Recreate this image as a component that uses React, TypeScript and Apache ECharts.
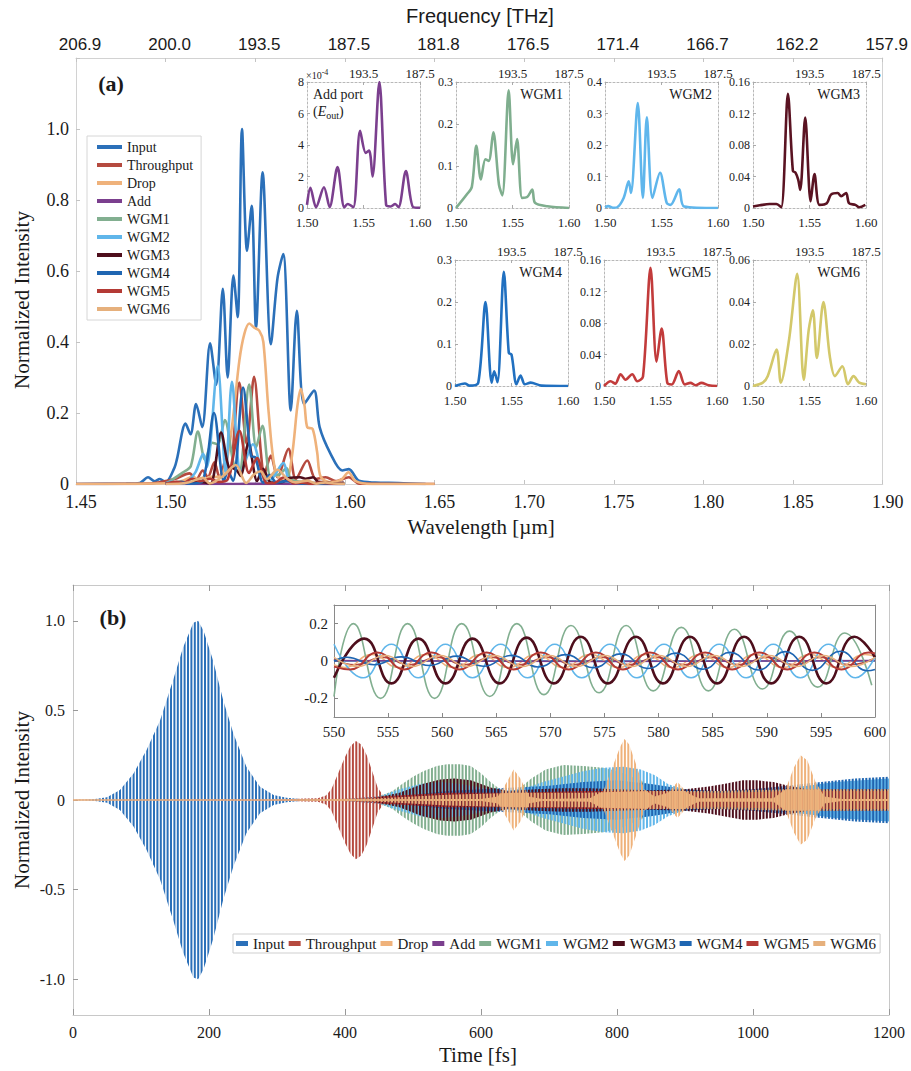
import React, { useEffect, useRef } from "react";
import * as echarts from "echarts";

const SERIF = '"Liberation Serif", "DejaVu Serif", "Times New Roman", serif';
const NARROW = '"Liberation Sans Narrow", "Liberation Sans", Arial, sans-serif';

// ---------- names, colours, tick labels ----------
const seriesNames = ["Input", "Throughput", "Drop", "Add", "WGM1", "WGM2", "WGM3", "WGM4", "WGM5", "WGM6"];
const seriesColors = ["#2b70b9", "#b54a3f", "#efb27b", "#7b3f8e", "#82af90", "#60b6ea", "#4e0e1c", "#1f66b2", "#b43a35", "#e6b07c"];
const insetColors = ["#7b3f8e", "#7fae8e", "#5fb6ec", "#5a1322", "#2170c0", "#c23b3b", "#d3c86a"];
const frequencyLabels = ["206.9", "200.0", "193.5", "187.5", "181.8", "176.5", "171.4", "166.7", "162.2", "157.9"];
const insetFrequencyLabels = ["", "193.5", "187.5"];
const timeYLabels = [-1, -0.5, 0, 0.5, 1];
const insetTimeYLabels = [-0.2, 0, 0.2];
const insetTitles = ["", "WGM1", "WGM2", "WGM3", "WGM4", "WGM5", "WGM6"];
const insetMax = [8, 0.3, 0.4, 0.16, 0.3, 0.16, 0.06];
const insetStep = [2, 0.1, 0.1, 0.04, 0.1, 0.04, 0.02];

// ---------- (a) spectra: [wavelength um, normalized intensity] ----------
const inputSpectrum = [
  [1.45, 0], [1.478, 0.001], [1.4856, 0.003], [1.4902, 0.019], [1.4939, 0.0075], [1.4967, 0.014], [1.5, 0.005],
  [1.505, 0.047], [1.5063, 0.07], [1.5111, 0.17], [1.5139, 0.14], [1.517, 0.225], [1.5204, 0.16], [1.5248, 0.396],
  [1.5282, 0.28], [1.5319, 0.55], [1.5346, 0.3], [1.5378, 0.587], [1.5402, 0.47], [1.5426, 1.0], [1.5454, 0.657],
  [1.548, 0.784], [1.5504, 0.44], [1.5541, 0.878], [1.5587, 0.394], [1.5624, 0.58], [1.5656, 0.648], [1.5698, 0.207],
  [1.5732, 0.488], [1.5772, 0.225], [1.5828, 0.263], [1.5859, 0.16], [1.592, 0.085], [1.5985, 0.038], [1.6022, 0.042],
  [1.6078, 0.009], [1.617, 0.004], [1.63, 0.003], [1.645, 0],
];
const throughputSpectrum = [
  [1.45, 0], [1.49, 0.001], [1.4967, 0.005], [1.505, 0.014], [1.5133, 0.03], [1.517, 0.012], [1.5207, 0.038],
  [1.5235, 0.019], [1.5272, 0.061], [1.53, 0.019], [1.5337, 0.07], [1.5356, 0.023], [1.5411, 0.286], [1.5452, 0.113],
  [1.5493, 0.302], [1.5532, 0.085], [1.555, 0.028], [1.5587, 0.08], [1.5624, 0.019], [1.5685, 0.099], [1.5726, 0.014],
  [1.579, 0.066], [1.5837, 0.014], [1.5893, 0.019], [1.5948, 0.008], [1.6022, 0.019], [1.608, 0.001], [1.65, 0],
];
const dropSpectrum = [
  [1.45, 0], [1.5, 0.002], [1.51, 0.01], [1.515, 0.02], [1.52, 0.008], [1.525, 0.02], [1.5296, 0.02], [1.5337, 0.056],
  [1.5374, 0.178], [1.5411, 0.347], [1.5439, 0.423], [1.5467, 0.452], [1.5495, 0.44], [1.5522, 0.432], [1.5545, 0.4],
  [1.5575, 0.2], [1.5615, 0.03], [1.567, 0.008], [1.5705, 0.08], [1.5735, 0.22], [1.5754, 0.268], [1.5775, 0.22],
  [1.579, 0.16], [1.582, 0.155], [1.5845, 0.09], [1.5865, 0.02], [1.592, 0.005], [1.598, 0.012], [1.602, 0.033],
  [1.606, 0.008], [1.615, 0], [1.65, 0],
];
// Add port in units of 1e-4
const addPortSpectrum = [
  [1.5, 0.2], [1.503, 1.28], [1.508, 0.05], [1.515, 1.32], [1.52, 0.05], [1.527, 2.6], [1.533, 0.05], [1.536, 0.25],
  [1.541, 0.05], [1.547, 4.9], [1.552, 3.5], [1.555, 3.65], [1.558, 2.0], [1.564, 8.0], [1.57, 0.2], [1.574, 0.1],
  [1.578, 0.25], [1.581, 0.05], [1.5875, 2.35], [1.594, 0.05], [1.6, 0.02],
];
const wgm1Spectrum = [
  [1.5, 0], [1.5095, 0.032], [1.514, 0.05], [1.518, 0.148], [1.522, 0.068], [1.526, 0.116], [1.529, 0.112], [1.533, 0.18],
  [1.538, 0.056], [1.541, 0.03], [1.5466, 0.28], [1.5505, 0.104], [1.554, 0.164], [1.5585, 0.024], [1.563, 0.026],
  [1.5675, 0.044], [1.57, 0.012], [1.581, 0.004], [1.6, 0],
];
const wgm2Spectrum = [
  [1.5, 0.002], [1.503, 0.006], [1.507, 0.001], [1.5105, 0.002], [1.5165, 0.032], [1.521, 0.085], [1.523, 0.048],
  [1.529, 0.333], [1.5335, 0.032], [1.537, 0.288], [1.542, 0.032], [1.5487, 0.112], [1.5546, 0.016], [1.558, 0.01],
  [1.5657, 0.059], [1.57, 0.005], [1.6, 0],
];
const wgm3Spectrum = [
  [1.5, 0.002], [1.506, 0.0034], [1.5147, 0.005], [1.5206, 0.005], [1.525, 0.001], [1.5309, 0.145], [1.5353, 0.047],
  [1.5376, 0.045], [1.54, 0.036], [1.5418, 0.023], [1.5462, 0.115], [1.551, 0.0085], [1.5544, 0.043], [1.5588, 0.004],
  [1.5653, 0.006], [1.569, 0.017], [1.575, 0.019], [1.578, 0.015], [1.5824, 0.019], [1.585, 0.006], [1.5906, 0.004],
  [1.594, 0.001], [1.5994, 0.004],
];
const wgm4Spectrum = [
  [1.5, 0], [1.5088, 0.006], [1.513, 0.001], [1.5206, 0.008], [1.527, 0.2], [1.5324, 0.008], [1.5347, 0.035],
  [1.5376, 0.009], [1.5432, 0.272], [1.5476, 0.079], [1.55, 0.075], [1.5544, 0.004], [1.558, 0.025], [1.5618, 0.004],
  [1.567, 0.008], [1.5765, 0.001], [1.6, 0],
];
const wgm5Spectrum = [
  [1.5, 0], [1.5059, 0.006], [1.51, 0.003], [1.5147, 0.015], [1.519, 0.008], [1.525, 0.015], [1.5294, 0.006],
  [1.5345, 0.012], [1.5412, 0.15], [1.5465, 0.031], [1.551, 0.073], [1.556, 0.004], [1.56, 0.002], [1.5662, 0.019],
  [1.5715, 0.002], [1.5765, 0.004], [1.581, 0.001], [1.5862, 0.004], [1.5926, 0.001], [1.6, 0],
];
const wgm6Spectrum = [
  [1.5, 0], [1.5087, 0.0016], [1.513, 0.0047], [1.5209, 0.0173], [1.5246, 0.0016], [1.5319, 0.022], [1.5391, 0.0534],
  [1.5449, 0.003], [1.5493, 0.0267], [1.553, 0.036], [1.5565, 0.0133], [1.5623, 0.04], [1.568, 0.014], [1.5725, 0.0047],
  [1.5791, 0.0094], [1.584, 0.0008], [1.589, 0.0047], [1.594, 0.0016], [1.6, 0.0008],
];

// ---------- (b) oscillation envelopes: [time fs, amplitude] ----------
const inputEnvelope = [
  [0, 0], [20, 0.001], [30, 0.004], [50, 0.015], [69, 0.056], [89, 0.148], [108, 0.278], [128, 0.444], [147, 0.667],
  [162, 0.852], [177, 0.99], [184, 1.0], [192, 0.944], [206, 0.778], [221, 0.556], [236, 0.37], [255, 0.185],
  [275, 0.074], [295, 0.028], [314, 0.012], [334, 0.006], [360, 0.004], [400, 0.003], [1200, 0.003],
];
const throughputEnvelope = [
  [300, 0.002], [340, 0.008], [360, 0.01], [372, 0.025], [380, 0.06], [390, 0.15], [400, 0.24], [408, 0.3],
  [416, 0.33], [424, 0.31], [432, 0.25], [440, 0.16], [448, 0.07], [456, 0.025], [470, 0.015], [600, 0.02],
  [800, 0.02], [1000, 0.02], [1200, 0.02],
];
const dropEnvelope = [
  [0, 0.004], [600, 0.005], [625, 0.02], [638, 0.1], [648, 0.17], [658, 0.12], [670, 0.02], [690, 0.006], [760, 0.01],
  [780, 0.05], [795, 0.2], [805, 0.3], [811, 0.34], [818, 0.31], [828, 0.2], [840, 0.06], [855, 0.02], [875, 0.04],
  [889, 0.1], [903, 0.04], [920, 0.01], [1030, 0.01], [1048, 0.06], [1060, 0.18], [1070, 0.25], [1080, 0.22],
  [1092, 0.1], [1105, 0.02], [1130, 0.006], [1200, 0.006],
];
const addEnvelope = [[0, 0.002], [400, 0.005], [800, 0.008], [1200, 0.01]];
const wgm1Envelope = [
  [380, 0], [420, 0.005], [450, 0.02], [470, 0.05], [484, 0.09], [500, 0.13], [515, 0.16], [535, 0.19], [550, 0.2],
  [570, 0.2], [585, 0.19], [600, 0.15], [614, 0.1], [628, 0.06], [640, 0.045], [655, 0.06], [674, 0.12], [695, 0.17],
  [721, 0.195], [750, 0.19], [780, 0.18], [810, 0.15], [839, 0.1], [860, 0.06], [875, 0.04], [900, 0.035],
  [950, 0.04], [1000, 0.05], [1050, 0.06], [1100, 0.05], [1150, 0.04], [1200, 0.04],
];
const wgm2Envelope = [
  [380, 0], [450, 0.02], [480, 0.06], [510, 0.09], [540, 0.1], [570, 0.09], [600, 0.07], [630, 0.05], [660, 0.06],
  [691, 0.1], [720, 0.13], [750, 0.16], [780, 0.18], [810, 0.185], [835, 0.17], [855, 0.14], [875, 0.09], [898, 0.06],
  [930, 0.05], [980, 0.05], [1030, 0.06], [1080, 0.08], [1120, 0.1], [1160, 0.11], [1200, 0.12],
];
const wgm3Envelope = [
  [380, 0], [440, 0.01], [480, 0.04], [514, 0.09], [540, 0.115], [561, 0.12], [585, 0.11], [614, 0.07], [640, 0.05],
  [680, 0.06], [720, 0.065], [760, 0.065], [800, 0.06], [850, 0.055], [900, 0.06], [935, 0.075], [957, 0.09],
  [985, 0.11], [1005, 0.11], [1030, 0.1], [1052, 0.08], [1080, 0.06], [1120, 0.06], [1160, 0.06], [1200, 0.06],
];
const wgm4Envelope = [
  [400, 0], [450, 0.01], [500, 0.03], [550, 0.05], [600, 0.06], [650, 0.07], [700, 0.08], [750, 0.1], [800, 0.11],
  [850, 0.09], [900, 0.06], [950, 0.05], [1000, 0.06], [1050, 0.08], [1100, 0.1], [1150, 0.12], [1200, 0.13],
];
const wgm5Envelope = [
  [380, 0], [450, 0.02], [550, 0.04], [650, 0.04], [750, 0.05], [850, 0.05], [950, 0.04], [1050, 0.05], [1150, 0.05],
  [1200, 0.05],
];
const wgm6Envelope = [
  [0, 0.004], [380, 0.005], [450, 0.01], [550, 0.03], [650, 0.04], [750, 0.04], [850, 0.05], [950, 0.05], [1050, 0.06],
  [1150, 0.06], [1200, 0.06],
];

// ---------- (b) inset: extrema of the oscillations, 550-600 fs ----------
const inputOsc = [[550, 0], [600, 0]];
const throughputOsc = [
  [550, 0.01], [552.0, -0.02], [554.5, 0.02], [557.0, -0.02], [559.6, 0.02], [562.1, -0.02], [564.6, 0.02],
  [567.2, -0.02], [569.7, 0.02], [572.2, -0.02], [574.8, 0.02], [577.3, -0.02], [579.8, 0.02], [582.4, -0.02],
  [584.9, 0.02], [587.4, -0.02], [590.0, 0.02], [592.5, -0.02], [595.0, 0.02], [597.6, -0.02], [600, 0.015],
];
const dropOsc = [
  [550, -0.02], [551.0, -0.035], [553.5, 0.035], [556.0, -0.035], [558.5, 0.035], [561.1, -0.035], [563.6, 0.035],
  [566.1, -0.035], [568.7, 0.035], [571.2, -0.035], [573.7, 0.035], [576.3, -0.035], [578.8, 0.035], [581.3, -0.035],
  [583.9, 0.035], [586.4, -0.035], [588.9, 0.035], [591.5, -0.035], [594.0, 0.035], [596.5, -0.035], [599.1, 0.035],
  [600, 0.025],
];
const addOsc = [[550, 0.003], [575, -0.003], [600, 0.003]];
const wgm1Osc = [
  [550, -0.19], [551.8, 0.2], [554.3, -0.2], [556.8, 0.2], [559.3, -0.2], [561.8, 0.2], [564.4, -0.19], [566.9, 0.2],
  [569.4, -0.18], [571.9, 0.19], [574.5, -0.17], [577.0, 0.19], [579.5, -0.16], [582.1, 0.18], [584.6, -0.16],
  [587.0, 0.17], [589.6, -0.15], [592.1, 0.16], [594.7, -0.14], [597.2, 0.15], [599.7, -0.13],
];
const wgm2Osc = [
  [550, 0.09], [552.7, -0.09], [555.3, 0.09], [557.8, -0.09], [560.3, 0.09], [562.8, -0.09], [565.4, 0.09],
  [567.9, -0.09], [570.4, 0.09], [572.9, -0.09], [575.5, 0.09], [578.0, -0.09], [580.5, 0.09], [583.0, -0.09],
  [585.6, 0.09], [588.1, -0.09], [590.6, 0.09], [593.1, -0.09], [595.7, 0.09], [598.2, -0.09], [600, 0.02],
];
const wgm3Osc = [
  [550, -0.09], [552.8, 0.12], [555.3, -0.12], [557.8, 0.12], [560.3, -0.12], [562.8, 0.12], [565.3, -0.12],
  [567.8, 0.125], [570.3, -0.12], [572.8, 0.13], [575.3, -0.12], [577.9, 0.13], [580.4, -0.12], [582.9, 0.13],
  [585.4, -0.12], [587.9, 0.13], [590.4, -0.12], [593.0, 0.13], [595.5, -0.12], [598.1, 0.13], [600, 0.02],
];
const wgm4Osc = [
  [550, 0], [551.2, 0.02], [553.7, -0.02], [556.2, 0.022], [558.8, -0.024], [561.3, 0.026], [563.8, -0.028],
  [566.4, 0.03], [568.9, -0.032], [571.4, 0.034], [574.0, -0.036], [576.5, 0.038], [579.0, -0.04], [581.6, 0.042],
  [584.1, -0.044], [586.6, 0.046], [589.2, -0.048], [591.7, 0.05], [594.2, -0.05], [596.8, 0.052], [599.3, -0.052],
  [600, -0.045],
];
const wgm5Osc = [
  [550, -0.03], [551.5, -0.045], [554.0, 0.045], [556.5, -0.045], [559.0, 0.045], [561.6, -0.045], [564.1, 0.045],
  [566.6, -0.045], [569.1, 0.045], [571.7, -0.045], [574.2, 0.045], [576.7, -0.045], [579.2, 0.045], [581.8, -0.045],
  [584.3, 0.045], [586.8, -0.045], [589.3, 0.045], [591.9, -0.045], [594.4, 0.045], [596.9, -0.045], [599.4, 0.045],
  [600, 0.04],
];
const wgm6Osc = [
  [550, 0.02], [552.2, -0.03], [554.7, 0.03], [557.2, -0.03], [559.8, 0.03], [562.3, -0.03], [564.8, 0.03],
  [567.4, -0.03], [569.9, 0.03], [572.4, -0.03], [575.0, 0.03], [577.5, -0.03], [580.0, 0.03], [582.6, -0.03],
  [585.1, 0.03], [587.6, -0.03], [590.2, 0.03], [592.7, -0.03], [595.2, 0.03], [597.8, -0.03], [600, 0.02],
];

function stripePattern(color: string, offset: number) {
  const c = document.createElement("canvas");
  c.width = 17;
  c.height = 4;
  const g = c.getContext("2d");
  if (g) {
    g.fillStyle = color;
    for (let i = -1; i <= 5; i++) g.fillRect(offset + i * 3.4, 0, 2.0, 4);
  }
  return { image: c.toDataURL(), repeat: "repeat", imageWidth: 17, imageHeight: 4 };
}

function fmtTrim(v: number) {
  if (Math.abs(v) < 1e-9) return "0";
  return String(parseFloat(v.toFixed(3)));
}

function buildOption() {
  const grid: any[] = [];
  const xAxis: any[] = [];
  const yAxis: any[] = [];
  const series: any[] = [];
  const graphic: any[] = [];

  const addPanel = (g: any, xb: any, xt: any, yl: any, yr: any) => {
    grid.push(g);
    const gi = grid.length - 1;
    const xi = xAxis.length;
    xAxis.push({ type: "value", splitLine: { show: false }, ...xb, gridIndex: gi, position: "bottom" });
    xAxis.push({ type: "value", splitLine: { show: false }, ...xt, gridIndex: gi, position: "top" });
    const yi = yAxis.length;
    yAxis.push({ type: "value", splitLine: { show: false }, ...yl, gridIndex: gi, position: "left" });
    yAxis.push({ type: "value", splitLine: { show: false }, ...yr, gridIndex: gi, position: "right" });
    return { xi, yi };
  };

  const line = (color: string, type: any = "solid") => ({ onZero: false, lineStyle: { color, type, width: 1 } });
  const ticks = (len: number, color: string, extra: any = {}) => ({ inside: true, length: len, lineStyle: { color }, ...extra });
  const noLabel = { show: false };

  // ---------- panel (a) main ----------
  const frameA = "#d2d2d2";
  const pa = addPanel(
    { left: 76, top: 58, width: 810, height: 426 },
    {
      min: 1.45, max: 1.9, interval: 0.05, axisLine: line(frameA), axisTick: ticks(4, "#c4c4c4"),
      axisLabel: {
        fontFamily: SERIF, fontSize: 18, color: "#1a1a1a", margin: 9, padding: [0, 0, 0, 10],
        formatter: (v: number) => v.toFixed(2),
      },
    },
    {
      min: 1.45, max: 1.9, interval: 0.05, axisLine: line(frameA), axisTick: ticks(4, "#c4c4c4"),
      axisLabel: {
        fontFamily: NARROW, fontSize: 17, color: "#1a1a1a", margin: 5, padding: [0, 0, 0, 8],
        formatter: (v: number) => frequencyLabels[Math.round((v - 1.45) / 0.05)] || "",
      },
    },
    {
      min: 0, max: 1.2, interval: 0.2, axisLine: line(frameA), axisTick: ticks(4, "#c4c4c4"),
      axisLabel: {
        fontFamily: SERIF, fontSize: 18, color: "#1a1a1a", margin: 7,
        formatter: (v: number) => (v > 1.1 ? "" : v === 0 ? "0" : v.toFixed(1)),
      },
    },
    { min: 0, max: 1.2, interval: 0.2, axisLine: line(frameA), axisTick: { show: false }, axisLabel: noLabel }
  );
  const mainSpectra = [
    inputSpectrum, throughputSpectrum, dropSpectrum,
    addPortSpectrum.map((p) => [p[0], p[1] * 1e-4]),
    wgm1Spectrum, wgm2Spectrum, wgm3Spectrum, wgm4Spectrum, wgm5Spectrum, wgm6Spectrum,
  ];
  seriesNames.forEach((n, i) => {
    series.push({
      type: "line", name: n, xAxisIndex: pa.xi, yAxisIndex: pa.yi, data: mainSpectra[i], smooth: 0.3,
      symbol: "none", lineStyle: { width: 2.6, color: seriesColors[i] }, itemStyle: { color: seriesColors[i] },
    });
  });

  // ---------- panel (a) insets ----------
  const insetBoxes = [
    [307, 82], [456, 82], [605, 82], [753, 82], [455, 260], [604, 260], [753, 260],
  ];
  const insetData = [addPortSpectrum, wgm1Spectrum, wgm2Spectrum, wgm3Spectrum, wgm4Spectrum, wgm5Spectrum, wgm6Spectrum];
  const insetNames = ["Add", "WGM1", "WGM2", "WGM3", "WGM4", "WGM5", "WGM6"];
  const frameI = "#b8b8b8";
  insetBoxes.forEach((b, k) => {
    const p = addPanel(
      { left: b[0], top: b[1], width: 113, height: 126 },
      {
        min: 1.5, max: 1.6, interval: 0.05, axisLine: line(frameI, [2, 2]), axisTick: ticks(3, "#aaa"),
        axisLabel: { fontFamily: SERIF, fontSize: 13, color: "#222", margin: 8, formatter: (v: number) => v.toFixed(2) },
      },
      {
        min: 1.5, max: 1.6, interval: 0.05, axisLine: line(frameI, [2, 2]), axisTick: ticks(3, "#aaa"),
        axisLabel: {
          fontFamily: SERIF, fontSize: 13, color: "#222", margin: 2,
          formatter: (v: number) => insetFrequencyLabels[Math.round((v - 1.5) / 0.05)] || "",
        },
      },
      {
        min: 0, max: insetMax[k], interval: insetStep[k], axisLine: line(frameI, [2, 2]), axisTick: ticks(3, "#aaa"),
        axisLabel: { fontFamily: SERIF, fontSize: 12, color: "#222", margin: 3, formatter: fmtTrim },
      },
      { min: 0, max: insetMax[k], interval: insetStep[k], axisLine: line(frameI, [2, 2]), axisTick: { show: false }, axisLabel: noLabel }
    );
    series.push({
      type: "line", name: insetNames[k], xAxisIndex: p.xi, yAxisIndex: p.yi, data: insetData[k], smooth: 0.3,
      symbol: "none", lineStyle: { width: 2.6, color: insetColors[k] }, itemStyle: { color: insetColors[k] },
    });
    if (insetTitles[k]) {
      graphic.push({
        type: "text", x: b[0] + 107, y: b[1] + 12,
        style: { text: insetTitles[k], fontFamily: SERIF, fontSize: 14, fill: "#1a1a1a", textAlign: "right", textVerticalAlign: "middle" },
      });
    }
  });
  graphic.push({
    type: "text", x: 313, y: 94,
    style: { text: "Add port", fontFamily: SERIF, fontSize: 14, fill: "#1a1a1a", textAlign: "left", textVerticalAlign: "middle" },
  });
  graphic.push({
    type: "text", x: 313, y: 111,
    style: {
      text: "({e|E}{s|out})", fontFamily: SERIF, fontSize: 14, fill: "#1a1a1a", textAlign: "left", textVerticalAlign: "middle",
      rich: {
        e: { fontFamily: SERIF, fontSize: 14, fontStyle: "italic", fill: "#1a1a1a" },
        s: { fontFamily: SERIF, fontSize: 10, fill: "#1a1a1a", verticalAlign: "bottom", lineHeight: 18 },
      },
    },
  });
  graphic.push({
    type: "text", x: 306, y: 75,
    style: {
      text: "×10{p|-4}", fontFamily: SERIF, fontSize: 10, fill: "#222", textAlign: "left", textVerticalAlign: "middle",
      rich: { p: { fontFamily: SERIF, fontSize: 8, fill: "#222", verticalAlign: "top", lineHeight: 14 } },
    },
  });

  // ---------- panel (b) main ----------
  const frameB = "#c8c8c8";
  const pb = addPanel(
    { left: 73, top: 585, width: 816, height: 430 },
    {
      min: 0, max: 1200, interval: 200, axisLine: line(frameB), axisTick: ticks(6, "#999"),
      axisLabel: { fontFamily: SERIF, fontSize: 16, color: "#1a1a1a", margin: 9, formatter: (v: number) => String(v) },
    },
    { min: 0, max: 1200, interval: 200, axisLine: line(frameB), axisTick: ticks(6, "#999"), axisLabel: noLabel },
    {
      min: -1.2, max: 1.2, axisLine: line(frameB),
      axisTick: ticks(5, "#999", { customValues: timeYLabels }),
      axisLabel: {
        fontFamily: SERIF, fontSize: 16, color: "#1a1a1a", margin: 8, customValues: timeYLabels,
        formatter: (v: number) => (Math.abs(v) < 1e-9 ? "0" : v.toFixed(1)),
      },
    },
    { min: -1.2, max: 1.2, axisLine: line(frameB), axisTick: { show: false }, axisLabel: noLabel }
  );
  const envelopes: any = {
    Input: inputEnvelope, Throughput: throughputEnvelope, Drop: dropEnvelope, Add: addEnvelope,
    WGM1: wgm1Envelope, WGM2: wgm2Envelope, WGM3: wgm3Envelope, WGM4: wgm4Envelope, WGM5: wgm5Envelope, WGM6: wgm6Envelope,
  };
  const bandOrder = ["Input", "Throughput", "Add", "WGM1", "WGM2", "WGM4", "WGM3", "WGM5", "WGM6", "Drop"];
  const offsets = [0, 1.7, 0.85, 2.55];
  bandOrder.forEach((n, j) => {
    const i = seriesNames.indexOf(n);
    const env = envelopes[n];
    const pattern = stripePattern(seriesColors[i], offsets[j % 4]);
    series.push({
      type: "custom", name: n, xAxisIndex: pb.xi, yAxisIndex: pb.yi, clip: true, data: env,
      encode: { x: 0, y: 1 }, itemStyle: { color: seriesColors[i] }, silent: true,
      renderItem: (params: any, api: any) => {
        if (params.dataIndex !== 0) return { type: "group", children: [] };
        const upper = env.map((p: number[]) => api.coord([p[0], p[1]]));
        const lower = env.map((p: number[]) => api.coord([p[0], -p[1]])).reverse();
        return { type: "polygon", shape: { points: upper.concat(lower) }, style: { fill: pattern, stroke: null } };
      },
    });
  });

  // ---------- panel (b) inset ----------
  const frameBI = "#8a8a8a";
  const pbi = addPanel(
    { left: 334, top: 605, width: 541, height: 112, show: true, backgroundColor: "#fff", borderWidth: 0 },
    {
      min: 550, max: 600, interval: 5, axisLine: line(frameBI), axisTick: ticks(4, "#888"),
      axisLabel: { fontFamily: SERIF, fontSize: 15, color: "#1a1a1a", margin: 7 },
    },
    { min: 550, max: 600, interval: 5, axisLine: line(frameBI), axisTick: ticks(4, "#888"), axisLabel: noLabel },
    {
      min: -0.3, max: 0.3, axisLine: line(frameBI), axisTick: ticks(4, "#888", { customValues: insetTimeYLabels }),
      axisLabel: {
        fontFamily: SERIF, fontSize: 15, color: "#1a1a1a", margin: 6, customValues: insetTimeYLabels,
        formatter: (v: number) => (Math.abs(v) < 1e-9 ? "0" : v.toFixed(1)),
      },
    },
    { min: -0.3, max: 0.3, axisLine: line(frameBI), axisTick: { show: false }, axisLabel: noLabel }
  );
  const oscData = [inputOsc, throughputOsc, dropOsc, addOsc, wgm1Osc, wgm2Osc, wgm3Osc, wgm4Osc, wgm5Osc, wgm6Osc];
  const oscWidth = [1.5, 1.5, 1.5, 1.5, 1.6, 1.6, 2.6, 1.6, 2.0, 1.5];
  seriesNames.forEach((n, i) => {
    series.push({
      type: "line", name: n, xAxisIndex: pbi.xi, yAxisIndex: pbi.yi, data: oscData[i], smooth: 0.5,
      symbol: "none", lineStyle: { width: oscWidth[i], color: seriesColors[i] }, itemStyle: { color: seriesColors[i] },
    });
  });

  // ---------- titles & labels ----------
  const T = (x: number, y: number, text: string, size: number, extra: any = {}, family = SERIF) => ({
    type: "text", x, y, ...extra,
    style: { text, fontFamily: family, fontSize: size, fill: "#1a1a1a", textAlign: "center", textVerticalAlign: "middle", ...(extra.style || {}) },
  });
  graphic.push(T(480, 16, "Frequency [THz]", 20, {}, NARROW));
  graphic.push(T(481, 527, "Wavelength [µm]", 21));
  graphic.push(T(22, 300, "Normalized Intensity", 21, { rotation: Math.PI / 2 }));
  graphic.push(T(22, 800, "Normalized Intensity", 21, { rotation: Math.PI / 2 }));
  graphic.push(T(478, 1055, "Time [fs]", 21));
  graphic.push(T(111, 83, "(a)", 22, { style: { fontWeight: "bold" } }));
  graphic.push(T(113, 617, "(b)", 22, { style: { fontWeight: "bold" } }));

  return {
    animation: false,
    backgroundColor: "#ffffff",
    textStyle: { fontFamily: SERIF },
    grid,
    xAxis,
    yAxis,
    series,
    graphic,
    legend: [
      {
        orient: "vertical", left: 87, top: 136, data: seriesNames, icon: "rect", itemWidth: 25, itemHeight: 4,
        itemGap: 4, selectedMode: false, borderColor: "#d6d6d6", borderWidth: 1, padding: [4, 8, 4, 10],
        backgroundColor: "#fff",
        textStyle: { fontFamily: SERIF, fontSize: 14, color: "#1a1a1a", lineHeight: 14 },
      },
      {
        orient: "horizontal", left: 233, top: 934, width: 670, data: seriesNames, icon: "rect", itemWidth: 12, itemHeight: 5,
        itemGap: 4, selectedMode: false, borderColor: "#cfcfcf", borderWidth: 1, padding: [2, 4, 2, 3],
        backgroundColor: "#fff",
        textStyle: { fontFamily: SERIF, fontSize: 15, color: "#1a1a1a" },
      },
    ],
  };
}

export default function App() {
  const ref = useRef<HTMLDivElement>(null);
  useEffect(() => {
    if (!ref.current) return;
    const chart = echarts.init(ref.current, null, { renderer: "svg" });
    chart.setOption(buildOption() as any);
    return () => chart.dispose();
  }, []);
  return <div ref={ref} style={{ position: "absolute", left: 0, top: 0, width: 911, height: 1071, background: "#fff" }} />;
}
